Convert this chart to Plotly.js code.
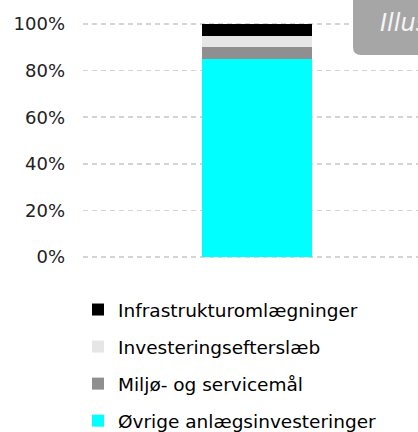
<!DOCTYPE html>
<html>
<head>
<meta charset="utf-8">
<script src="https://cdn.plot.ly/plotly-3.0.1.min.js"></script>
<style>html,body{margin:0;padding:0;background:#fff;}#chart{width:418px;height:432px;}</style>
</head>
<body>
<div id="chart"></div>
<script>
const categories = ['I alt'];
const seriesNames = ['Øvrige anlægsinvesteringer', 'Miljø- og servicemål', 'Investeringsefterslæb', 'Infrastrukturomlægninger'];
const seriesValues = [[0.85], [0.05], [0.05], [0.05]];
const seriesColors = ['#00ffff', '#8f8f8f', '#e6e6e6', '#000000'];
const legendRanks = [4, 3, 2, 1];
const yTickVals = [0, 0.2, 0.4, 0.6, 0.8, 1.0];
const stampText = 'Illustrativt';

const FONT = 'DejaVu Sans, Verdana, sans-serif';

const traces = seriesNames.map((name, i) => ({
  type: 'bar',
  name: name,
  x: categories,
  y: seriesValues[i],
  width: 1,
  marker: {color: seriesColors[i], line: {width: 0}},
  legendgroup: 'g' + i,
  legendrank: legendRanks[i],
  hoverinfo: 'skip'
}));

// plot area: x 83..418; 0% at y=257, 100% at y=24; range padded by 4px so edge gridlines show
const PAD = 4, UNIT = 233;
const PW = 335, PH = UNIT + 2 * PAD, PTOP = 24 - PAD;
const Y0 = -PAD / UNIT, Y1 = 1 + PAD / UNIT;
const pyToPaper = py => (PTOP + PH - py) / PH;
const pxToPaper = px => (px - 83) / PW;

// rounded box for the stamp (paper coords)
const bx0 = pxToPaper(353), bx1 = 1.3, by0 = pyToPaper(55), by1 = 1.3;
const rx = 8 / PW, ry = 8 / PH;
const boxPath = `M ${bx0},${by1} L ${bx0},${by0 + ry} Q ${bx0},${by0} ${bx0 + rx},${by0} L ${bx1},${by0} L ${bx1},${by1} Z`;

const layout = {
  width: 418,
  height: 432,
  margin: {l: 83, r: 0, t: PTOP, b: 432 - PTOP - PH, pad: 0, autoexpand: false},
  paper_bgcolor: '#ffffff',
  plot_bgcolor: '#ffffff',
  barmode: 'stack',
  font: {family: FONT, size: 18, color: '#000000'},
  xaxis: {
    type: 'category',
    range: [-1.582, 1.464],
    showticklabels: false,
    showgrid: false,
    zeroline: false,
    showline: false,
    ticks: '',
    fixedrange: true
  },
  yaxis: {
    range: [Y0, Y1],
    tickvals: yTickVals,
    tickformat: '.0%',
    showgrid: true,
    gridcolor: '#d4d4d4',
    gridwidth: 1.5,
    griddash: '5px,4px',
    zeroline: false,
    showline: false,
    ticks: '',
    ticklabelstandoff: 17,
    tickfont: {family: FONT, size: 18, color: '#222222'},
    fixedrange: true
  },
  showlegend: true,
  legend: {
    xref: 'container',
    yref: 'container',
    x: 78 / 418,
    y: 1 - 291 / 432,
    xanchor: 'left',
    yanchor: 'top',
    traceorder: 'grouped',
    tracegroupgap: 10,
    itemwidth: 30,
    bgcolor: 'rgba(0,0,0,0)',
    borderwidth: 0,
    font: {family: FONT, size: 18.5, color: '#000000'}
  },
  shapes: [{
    type: 'path',
    xref: 'paper',
    yref: 'paper',
    path: boxPath,
    fillcolor: '#a6a6a6',
    line: {width: 0},
    layer: 'above'
  }],
  annotations: [{
    xref: 'paper',
    yref: 'paper',
    x: pxToPaper(378),
    y: pyToPaper(23),
    xanchor: 'left',
    yanchor: 'middle',
    showarrow: false,
    text: '<i>' + stampText + '</i>',
    font: {family: FONT, size: 24, color: '#f5f5f5'}
  }]
};

Plotly.newPlot('chart', traces, layout, {staticPlot: true, displayModeBar: false});
</script>
</body>
</html>
